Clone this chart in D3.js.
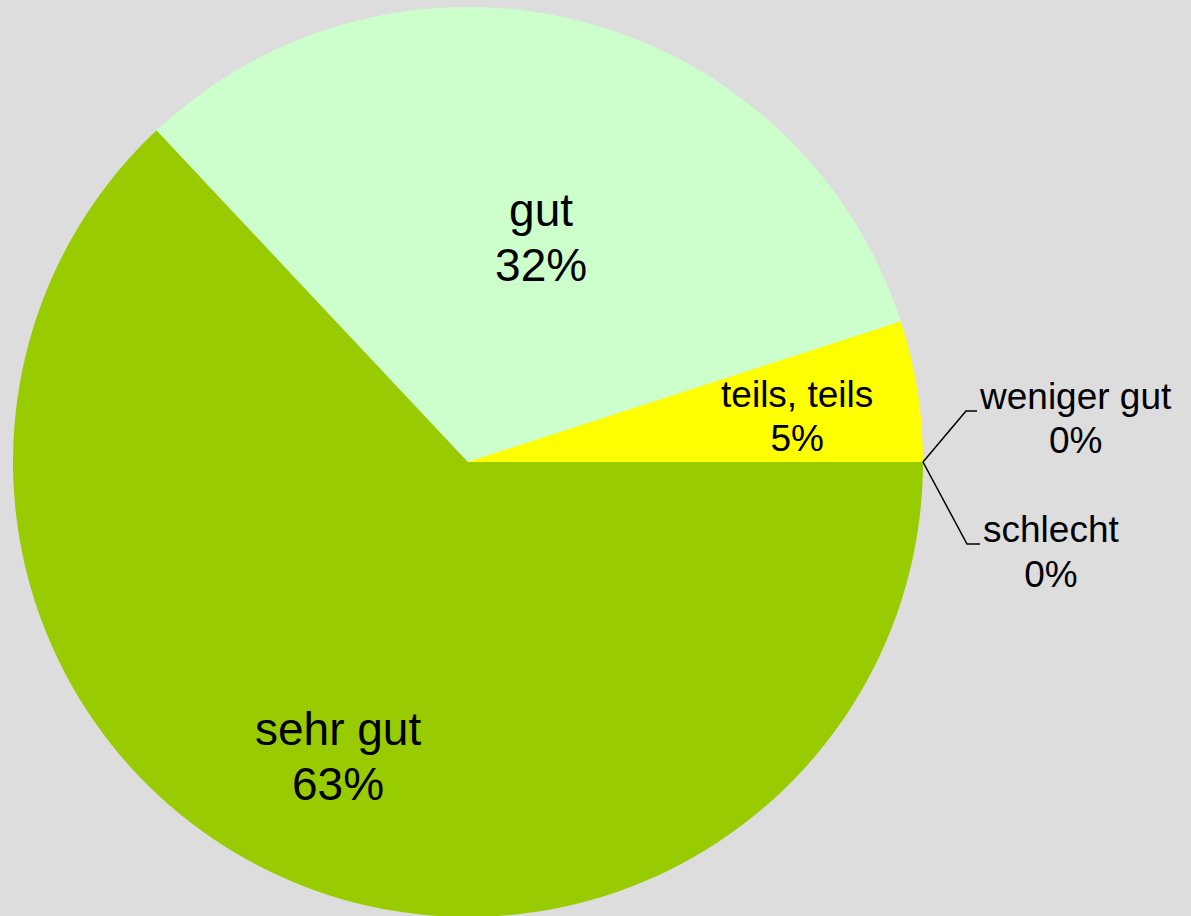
<!DOCTYPE html>
<html>
<head>
<meta charset="utf-8">
<script src="https://cdn.jsdelivr.net/npm/d3@7"></script>
<style>
  html, body { margin: 0; padding: 0; background: #dddddd; }
  svg { display: block; }
  text { font-family: "Liberation Sans", Arial, sans-serif; fill: #000; }
</style>
</head>
<body>
<svg id="chart" width="1191" height="916"></svg>
<script>
// ---- data ----
const categories = ["sehr gut", "gut", "teils, teils", "weniger gut", "schlecht"];
const values = [63, 32, 5, 0, 0];
const colors = ["#99cc00", "#ccffcc", "#ffff00", "#ff9900", "#ff0000"];

// ---- layout (not data) ----
const W = 1191, H = 916;
const cx = 468, cy = 462, R = 455;
const bigFont = 46, smallFont = 37;
// inside labels: polar nudge (deg) + radius fraction
const insideLayout = {
  "sehr gut":     { nudge: -0.7, rf: 0.74, size: bigFont },
  "gut":          { nudge: 4.9,  rf: 0.486, size: bigFont },
  "teils, teils": { nudge: 3.3,  rf: 0.727, size: smallFont }
};
// outside (leader) labels: elbow offset from edge point, horizontal run
const outsideLayout = {
  "weniger gut": { ex: 43, ey: -51, run: 11, gap: 3, dy: 20 },
  "schlecht":    { ex: 44, ey: 82,  run: 13, gap: 3, dy: 20.5 }
};

const svg = d3.select("#chart");
const g = svg.append("g").attr("transform", `translate(${cx},${cy})`);

const data = categories.map((c, i) => ({ cat: c, value: values[i], color: colors[i] }));
const pie = d3.pie().value(d => d.value).sort(null)
  .startAngle(Math.PI / 2).endAngle(Math.PI / 2 + 2 * Math.PI);
const arcs = pie(data);
const arc = d3.arc().innerRadius(0).outerRadius(R);

g.selectAll("path.slice").data(arcs.filter(a => a.data.value > 0)).join("path")
  .attr("class", "slice")
  .attr("d", arc)
  .attr("fill", d => d.data.color);

const pct = d => Math.round(d.data.value / d3.sum(values) * 100) + "%";

function polar(angle, r) { return [r * Math.sin(angle), -r * Math.cos(angle)]; }

// inside labels
arcs.filter(a => insideLayout[a.data.cat]).forEach(a => {
  const L = insideLayout[a.data.cat];
  const mid = (a.startAngle + a.endAngle) / 2 + L.nudge * Math.PI / 180;
  const [x, y] = polar(mid, R * L.rf);
  const lh = L.size * 1.2;
  const t = g.append("text").attr("text-anchor", "middle").attr("font-size", L.size);
  t.append("tspan").attr("x", x).attr("y", y - lh / 2).text(a.data.cat);
  t.append("tspan").attr("x", x).attr("y", y + lh / 2).text(pct(a));
});

// outside labels with leader lines
arcs.filter(a => outsideLayout[a.data.cat]).forEach(a => {
  const L = outsideLayout[a.data.cat];
  const mid = (a.startAngle + a.endAngle) / 2;
  const [px, py] = polar(mid, R);
  const ex = px + L.ex, ey = py + L.ey;
  const endX = ex + L.run;
  g.append("path")
    .attr("d", `M${px},${py}L${ex},${ey}L${endX},${ey}`)
    .attr("fill", "none").attr("stroke", "#000").attr("stroke-width", 1.5);
  const lh = smallFont * 1.2;
  const t = g.append("text").attr("text-anchor", "middle").attr("font-size", smallFont);
  const t1 = t.append("tspan").text(a.data.cat);
  const w = t1.node().getComputedTextLength();
  const tx = endX + L.gap + w / 2;
  const ty = ey + L.dy;
  t1.attr("x", tx).attr("y", ty - lh / 2);
  t.append("tspan").attr("x", tx).attr("y", ty + lh / 2).text(pct(a));
});
</script>
</body>
</html>
